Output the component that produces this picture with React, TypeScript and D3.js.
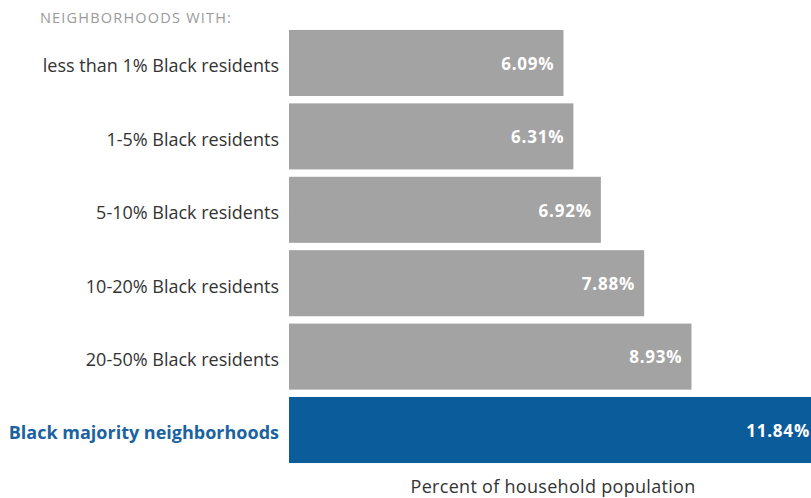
import React from 'react';
import * as d3 from 'd3';

const categories = [
  'less than 1% Black residents',
  '1-5% Black residents',
  '5-10% Black residents',
  '10-20% Black residents',
  '20-50% Black residents',
  'Black majority neighborhoods',
];
const values = [6.09, 6.31, 6.92, 7.88, 8.93, 11.84];
const highlight = [false, false, false, false, false, true];

const W = 811;
const H = 498;

export default function App() {
  const x = d3.scaleLinear().domain([0, 1]).range([289, 289 + 45.07]);
  const y = d3.scaleBand().domain(categories).range([26.3, 26.3 + 73.4 * 6]).paddingInner(0.1).paddingOuter(0.05);
  const font = '"Open Sans", sans-serif';
  return (
    <svg width={W} height={H} style={{ position: 'absolute', left: 0, top: 0, overflow: 'hidden' }} fontFamily={font}>
      <rect width={W} height={H} fill="#fff" />
      <text x={40} y={23} fontSize={14.5} fill="#9a9a9a" letterSpacing={1.2}>NEIGHBORHOODS WITH:</text>
      {categories.map((c, i) => {
        const y0 = y(c)!;
        const bw = y.bandwidth();
        const x1 = x(values[i]);
        return (
          <g key={c}>
            <rect x={x(0)} y={y0} width={x1 - x(0)} height={bw} fill={highlight[i] ? '#0b5c9b' : '#a3a3a3'} />
            <text x={279} y={y0 + bw / 2} dy="0.52em" textAnchor="end" fontSize={18}
              fontWeight={highlight[i] ? 700 : 400} fill={highlight[i] ? '#1a62a0' : '#333'}>{c}</text>
            <text x={Math.min(x1 - 9, W - 1)} y={y0 + bw / 2} dy="0.4em" textAnchor="end" fontSize={17}
              fontWeight={700} fill="#fff" letterSpacing={0.8}>{d3.format('.2f')(values[i])}%</text>
          </g>
        );
      })}
      <text x={553} y={493} textAnchor="middle" fontSize={18} fill="#333" letterSpacing={0.3}>Percent of household population</text>
    </svg>
  );
}
